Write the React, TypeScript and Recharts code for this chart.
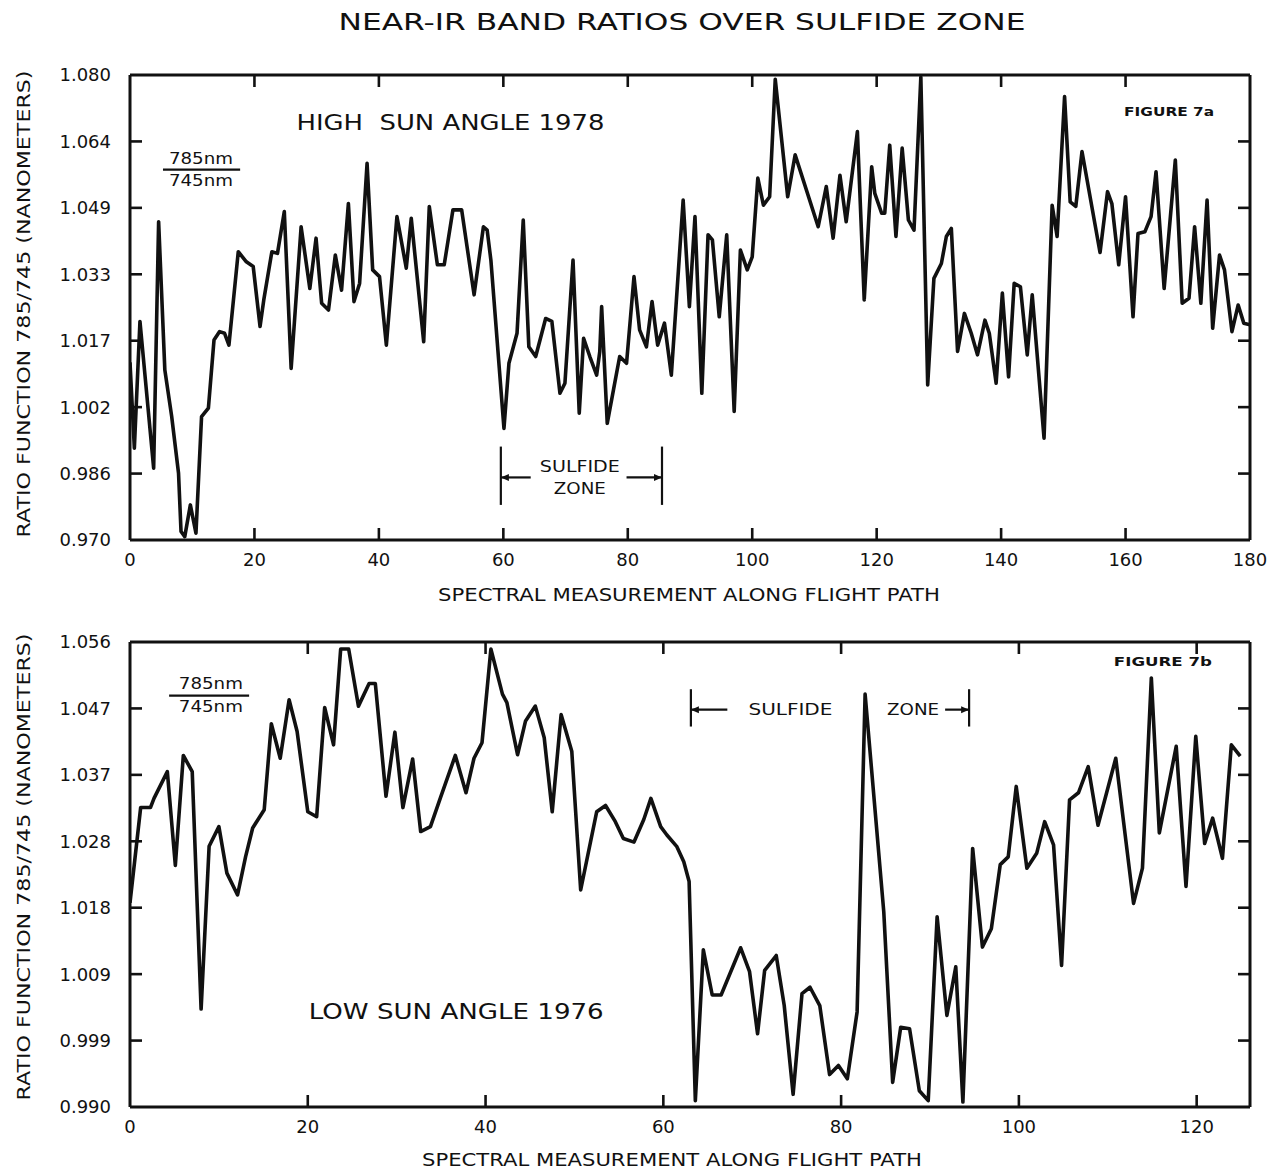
import React from "react";
import { LineChart, Line, XAxis, YAxis, ReferenceLine, ReferenceDot } from "recharts";

// Figure 7a – high sun angle, 1978 flight line
const highPos = [
  0, 0.7, 1.6, 3.8, 4.6, 5.6, 6.7, 7.8, 8.2, 8.8, 9.7, 10.6, 11.5, 12.6, 13.5, 14.4, 15.2, 15.9,
  17.4, 18.7, 19.8, 20.9, 21.5, 22.8, 23.7, 24.8, 25.9, 27.5, 28.9, 29.9, 30.8, 31.9, 33.0, 34.0,
  35.1, 36.0, 36.9, 38.1, 39.0, 40.1, 41.2, 42.9, 44.4, 45.2, 47.2, 48.1, 49.4, 50.5, 51.9, 53.3,
  55.3, 56.8, 57.4, 58.0, 60.1, 60.9, 62.2, 63.2, 64.1, 65.2, 66.8, 67.8, 69.1, 69.9, 71.2, 72.2,
  72.9, 73.9, 75.0, 75.5, 75.8, 76.7, 77.7, 78.7, 79.8, 81.0, 81.9, 83.0, 83.9, 84.8, 85.9, 87.0,
  88.9, 89.9, 90.8, 91.9, 92.9, 93.6, 94.7, 95.9, 97.1, 98.1, 99.2, 100.0, 100.9, 101.8, 102.8,
  103.7, 105.7, 106.9, 110.6, 111.9, 113.0, 114.1, 115.1, 116.9, 118.0, 119.2, 119.7, 120.8,
  121.3, 122.1, 123.1, 124.1, 125.1, 126.0, 127.1, 128.2, 129.2, 130.4, 131.2, 132.0, 133.0,
  134.1, 135.2, 136.2, 137.4, 138.1, 139.2, 140.2, 141.2, 142.1, 143.1, 144.2, 145.0, 146.9,
  148.2, 149.0, 150.2, 151.1, 152.0, 153.0, 155.9, 157.1, 157.8, 158.9, 160.0, 161.2, 162.0,
  163.1, 164.1, 164.9, 166.2, 168.0, 169.1, 170.2, 171.1, 172.1, 173.1, 174.0, 175.1, 175.9,
  177.1, 178.1, 179.0, 180.0,
];
const highRatio = [
  1.012, 0.9917, 1.0217, 0.987, 1.0453, 1.0102, 0.9992, 0.9858, 0.972, 0.9708, 0.9783, 0.9716,
  0.9992, 1.0012, 1.0173, 1.0193, 1.0189, 1.0161, 1.0382, 1.0358, 1.0347, 1.0205, 1.0268, 1.0382,
  1.0378, 1.0477, 1.0106, 1.0441, 1.0295, 1.0414, 1.026, 1.0244, 1.0374, 1.0291, 1.0496, 1.0264,
  1.0307, 1.0591, 1.0339, 1.0323, 1.0161, 1.0465, 1.0343, 1.0461, 1.0169, 1.0489, 1.0351, 1.0351,
  1.0481, 1.0481, 1.028, 1.0441, 1.0433, 1.0362, 0.9964, 1.0118, 1.0189, 1.0457, 1.0157, 1.0134,
  1.0224, 1.0217, 1.0047, 1.0071, 1.0362, 1.0, 1.0177, 1.0134, 1.009, 1.0146, 1.0252, 0.9976,
  1.0055, 1.0134, 1.0118, 1.0323, 1.0197, 1.0157, 1.0264, 1.0161, 1.0213, 1.009, 1.0504, 1.0252,
  1.0465, 1.0047, 1.0422, 1.041, 1.0228, 1.0422, 1.0004, 1.0386, 1.0339, 1.037, 1.0556, 1.0492,
  1.0512, 1.079, 1.0512, 1.0611, 1.0441, 1.0536, 1.0414, 1.0563, 1.0453, 1.0666, 1.0268, 1.0583,
  1.052, 1.0473, 1.0473, 1.0634, 1.0418, 1.0627, 1.0457, 1.0433, 1.0795, 1.0067, 1.0319, 1.0354,
  1.0418, 1.0437, 1.0146, 1.0236, 1.0189, 1.0138, 1.022, 1.0189, 1.0071, 1.0284, 1.0086, 1.0307,
  1.0299, 1.0138, 1.028, 0.9941, 1.0492, 1.0418, 1.0749, 1.05, 1.0489, 1.0619, 1.038, 1.0524,
  1.0496, 1.0351, 1.0512, 1.0228, 1.0425, 1.0429, 1.0465, 1.0571, 1.0295, 1.0599, 1.026, 1.0272,
  1.0441, 1.026, 1.0504, 1.0201, 1.0374, 1.0339, 1.0193, 1.0256, 1.0213, 1.0209,
];

// Figure 7b – low sun angle, 1976 flight line
const lowPos = [
  0, 1.2, 2.3, 2.7, 4.2, 5.1, 6.0, 7.0, 8.0, 8.9, 10.0, 10.9, 12.1, 13.0, 13.8, 15.1, 15.9, 16.9,
  17.9, 18.8, 20.0, 21.0, 21.9, 22.9, 23.7, 24.6, 25.7, 26.9, 27.6, 28.8, 29.8, 30.7, 31.8, 32.7,
  33.8, 34.9, 36.6, 37.8, 38.7, 39.6, 40.6, 41.9, 42.4, 43.6, 44.5, 45.6, 46.6, 47.5, 48.5, 49.7,
  50.7, 52.5, 53.5, 54.6, 55.5, 56.7, 57.8, 58.6, 59.7, 60.4, 61.5, 62.3, 62.9, 63.6, 64.5, 65.5,
  66.5, 68.7, 69.7, 70.6, 71.4, 72.7, 73.6, 74.6, 75.6, 76.5, 77.6, 78.7, 79.7, 80.7, 81.8, 82.7,
  84.8, 85.8, 86.7, 87.7, 88.8, 89.8, 90.8, 91.9, 92.9, 93.7, 94.8, 95.9, 96.9, 97.9, 98.8, 99.7,
  100.9, 102.0, 102.9, 103.9, 104.8, 105.7, 106.7, 107.8, 108.9, 110.9, 112.9, 113.9, 114.9,
  115.8, 117.7, 118.8, 119.9, 120.9, 121.8, 122.9, 123.9, 124.9,
];
const lowRatio = [
  1.019, 1.0325, 1.0325, 1.0338, 1.0376, 1.0243, 1.0399, 1.0376, 1.0039, 1.027, 1.0298, 1.0232,
  1.0201, 1.0255, 1.0296, 1.0322, 1.0444, 1.0395, 1.0478, 1.0433, 1.0319, 1.0312, 1.0467, 1.0414,
  1.055, 1.055, 1.0469, 1.0501, 1.0501, 1.0341, 1.0432, 1.0325, 1.0394, 1.0291, 1.0298, 1.0338,
  1.0399, 1.0346, 1.0395, 1.0417, 1.055, 1.0486, 1.0474, 1.04, 1.0448, 1.0469, 1.0424, 1.0319,
  1.0457, 1.0405, 1.0208, 1.0319, 1.0328, 1.0305, 1.0281, 1.0276, 1.0308, 1.0338, 1.0298, 1.0286,
  1.027, 1.0248, 1.022, 0.9909, 1.0123, 1.0059, 1.0059, 1.0126, 1.0092, 1.0004, 1.0094, 1.0115,
  1.0044, 0.9918, 1.0061, 1.007, 1.0044, 0.9946, 0.9959, 0.994, 1.0035, 1.0486, 1.0177, 0.9935,
  1.0013, 1.0011, 0.9923, 0.9909, 1.017, 1.003, 1.0099, 0.9907, 1.0267, 1.0127, 1.0153, 1.0244,
  1.0255, 1.0355, 1.0239, 1.026, 1.0305, 1.0272, 1.0101, 1.0336, 1.0346, 1.0383, 1.03, 1.0395,
  1.0189, 1.0239, 1.0509, 1.0289, 1.0412, 1.0213, 1.0426, 1.0274, 1.031, 1.0253, 1.0414, 1.0398,
];

const highXTicks = [0, 20, 40, 60, 80, 100, 120, 140, 160, 180];
const lowXTicks = [0, 20, 40, 60, 80, 100, 120];
const highYLabels = ["0.970", "0.986", "1.002", "1.017", "1.033", "1.049", "1.064", "1.080"];
const lowYLabels = ["0.990", "0.999", "1.009", "1.018", "1.028", "1.037", "1.047", "1.056"];

// sulfide zone limits along the flight path
const highZone = [59.6, 85.5];
const lowZone = [63.1, 94.4];

const INK = "#111";
const FONT = "'DejaVu Sans', Arial, sans-serif";
const X_GAP = 12; // axis line -> top of x tick label
const Y_GAP = 19; // axis line -> right edge of y tick label

// plot box size in px (chart width minus margins and axis widths), used to
// turn the inward tick length into data units
const PLOT_W = 1274 - 20 - 20 - 110 - 4;
const PLOT_H = 465;
const TICK_PX = 12;

const toRows = (pos: number[], vals: number[]) => pos.map((m, i) => ({ m, r: vals[i] }));

// the printed labels are rounded, the ticks themselves are evenly spaced
const evenTicks = (lo: number, hi: number, n: number) =>
  Array.from({ length: n }, (_, i) => lo + ((hi - lo) * i) / (n - 1));

const BottomLabel = (p: any) => (
  <text x={p.x} y={p.y} dy="0.78em" textAnchor="middle" fontSize={18} fontFamily={FONT} fill={INK}>
    {p.payload.value}
  </text>
);

const makeLeftLabel = (labels: string[]) => (p: any) => (
  <text x={p.x} y={p.y} dy="0.36em" textAnchor="end" fontSize={18} fontFamily={FONT} fill={INK}>
    {labels[p.index]}
  </text>
);

function seg(key: string, x1: number, y1: number, x2: number, y2: number, w = 2.2) {
  return (
    <ReferenceLine
      key={key}
      segment={[{ x: x1, y: y1 }, { x: x2, y: y2 }]}
      stroke={INK}
      strokeWidth={w}
      ifOverflow="visible"
    />
  );
}

// inward tick marks on all four sides of the frame
function frameTicks(id: string, xDomain: number[], xTicks: number[], yDomain: number[], yTicks: number[]) {
  const tx = ((xDomain[1] - xDomain[0]) * TICK_PX) / PLOT_W;
  const ty = ((yDomain[1] - yDomain[0]) * TICK_PX) / PLOT_H;
  const out: React.ReactNode[] = [];
  xTicks
    .filter((t) => t > xDomain[0] && t < xDomain[1])
    .forEach((t) => {
      out.push(seg(`${id}b${t}`, t, yDomain[0], t, yDomain[0] + ty, 2.6));
      out.push(seg(`${id}t${t}`, t, yDomain[1], t, yDomain[1] - ty, 2.6));
    });
  yTicks.slice(1, -1).forEach((t, i) => {
    out.push(seg(`${id}l${i}`, xDomain[0], t, xDomain[0] + tx, t, 2.6));
    out.push(seg(`${id}r${i}`, xDomain[1], t, xDomain[1] - tx, t, 2.6));
  });
  return out;
}

function textDot(key: string, x: number, y: number, text: string, size: number, opts: any = {}) {
  return (
    <ReferenceDot
      key={key}
      x={x}
      y={y}
      r={0}
      ifOverflow="visible"
      shape={(p: any) => (
        <text
          x={p.cx}
          y={p.cy}
          textAnchor="middle"
          dominantBaseline="central"
          fontFamily={FONT}
          fontSize={size}
          fontWeight={opts.bold ? 700 : 400}
          fill={INK}
          textLength={opts.len}
          lengthAdjust="spacingAndGlyphs"
        >
          {text}
        </text>
      )}
    />
  );
}

function arrowDot(key: string, x: number, y: number, dir: 1 | -1) {
  return (
    <ReferenceDot
      key={key}
      x={x}
      y={y}
      r={0}
      ifOverflow="visible"
      shape={(p: any) => (
        <path d={`M${p.cx},${p.cy} l${8 * dir},-3.5 l0,7 z`} fill={INK} />
      )}
    />
  );
}

// bracket "|<- SULFIDE ZONE ->|" drawn in data coordinates
function zoneBracket(id: string, zone: number[], yLo: number, yHi: number, yMid: number, inner: number[]) {
  return [
    seg(id + "l", zone[0], yLo, zone[0], yHi),
    seg(id + "r", zone[1], yLo, zone[1], yHi),
    seg(id + "al", zone[0], yMid, inner[0], yMid),
    seg(id + "ar", inner[1], yMid, zone[1], yMid),
    arrowDot(id + "hl", zone[0], yMid, 1),
    arrowDot(id + "hr", zone[1], yMid, -1),
  ];
}

function Panel({
  id,
  rows,
  xDomain,
  xTicks,
  yDomain,
  yLabels,
  height,
  marginTop,
  marginBottom,
  extras,
}: {
  id: string;
  rows: { m: number; r: number }[];
  xDomain: number[];
  xTicks: number[];
  yDomain: number[];
  yLabels: string[];
  height: number;
  marginTop: number;
  marginBottom: number;
  extras: React.ReactNode[];
}) {
  const yTicks = evenTicks(yDomain[0], yDomain[1], yLabels.length);
  const axisLine = { stroke: INK, strokeWidth: 3 };
  return (
    <LineChart
      width={1274}
      height={height}
      data={rows}
      margin={{ top: marginTop, right: 20, bottom: marginBottom, left: 20 }}
    >
      <XAxis
        dataKey="m"
        type="number"
        domain={xDomain}
        ticks={xTicks}
        allowDataOverflow
        axisLine={axisLine}
        tickLine={false}
        tickSize={0}
        tickMargin={X_GAP}
        height={40}
        tick={BottomLabel}
        interval={0}
      />
      <XAxis
        xAxisId="top"
        orientation="top"
        type="number"
        domain={xDomain}
        allowDataOverflow
        axisLine={axisLine}
        tickLine={false}
        tick={false}
        height={4}
      />
      <YAxis
        type="number"
        domain={yDomain}
        ticks={yTicks}
        allowDataOverflow
        axisLine={axisLine}
        tickLine={false}
        tickSize={0}
        tickMargin={Y_GAP}
        width={110}
        tick={makeLeftLabel(yLabels)}
        interval={0}
      />
      <YAxis
        yAxisId="right"
        orientation="right"
        type="number"
        domain={yDomain}
        allowDataOverflow
        axisLine={axisLine}
        tickLine={false}
        tick={false}
        width={4}
      />
      <Line
        type="linear"
        dataKey="r"
        stroke={INK}
        strokeWidth={3.6}
        strokeLinejoin="round"
        dot={false}
        isAnimationActive={false}
      />
      {frameTicks(id, xDomain, xTicks, yDomain, yTicks)}
      {extras}
    </LineChart>
  );
}

const highExtras = [
  textDot("hsa", 51.5, 1.0687, "HIGH\u00a0 SUN ANGLE 1978", 21, { len: 308 }),
  textDot("hn1", 11.4, 1.0602, "785nm", 16, { len: 64 }),
  seg("hfr", 5.3, 1.0576, 17.7, 1.0576),
  textDot("hn2", 11.4, 1.0551, "745nm", 16, { len: 64 }),
  textDot("hfig", 167.0, 1.0713, "FIGURE 7a", 12, { bold: true, len: 90 }),
  ...zoneBracket("hz", highZone, 0.9783, 0.9921, 0.9848, [64.4, 79.8]),
  textDot("hs1", 72.3, 0.9873, "SULFIDE", 16, { len: 80 }),
  textDot("hs2", 72.3, 0.9822, "ZONE", 16, { len: 52 }),
];

const lowExtras = [
  textDot("lsa", 36.7, 1.0035, "LOW SUN ANGLE 1976", 21, { len: 295 }),
  textDot("ln1", 9.1, 1.0501, "785nm", 16, { len: 64 }),
  seg("lfr", 4.4, 1.0484, 13.4, 1.0484),
  textDot("ln2", 9.1, 1.0468, "745nm", 16, { len: 64 }),
  textDot("lfig", 116.2, 1.0532, "FIGURE 7b", 12, { bold: true, len: 98 }),
  ...zoneBracket("lz", lowZone, 1.044, 1.0493, 1.0464, [67.2, 91.7]),
  textDot("ls1", 74.3, 1.0464, "SULFIDE", 16, { len: 84 }),
  textDot("ls2", 88.1, 1.0464, "ZONE", 16, { len: 52 }),
];

export default function App() {
  const label = { fontFamily: FONT, fill: INK } as const;
  return (
    <div style={{ position: "absolute", left: 0, top: 0, width: 1274, height: 1173, background: "#fff" }}>
      <div style={{ position: "absolute", left: 0, top: 0 }}>
        <Panel
          id="hi"
          rows={toRows(highPos, highRatio)}
          xDomain={[0, 180]}
          xTicks={highXTicks}
          yDomain={[0.97, 1.08]}
          yLabels={highYLabels}
          height={600}
          marginTop={71}
          marginBottom={20}
          extras={highExtras}
        />
      </div>
      <div style={{ position: "absolute", left: 0, top: 600 }}>
        <Panel
          id="lo"
          rows={toRows(lowPos, lowRatio)}
          xDomain={[0, 126]}
          xTicks={lowXTicks}
          yDomain={[0.99, 1.056]}
          yLabels={lowYLabels}
          height={573}
          marginTop={38}
          marginBottom={26}
          extras={lowExtras}
        />
      </div>
      <svg
        width={1274}
        height={1173}
        style={{ position: "absolute", left: 0, top: 0, pointerEvents: "none" }}
      >
        <text x={682} y={22} textAnchor="middle" dominantBaseline="central" fontSize={23} textLength={687} lengthAdjust="spacingAndGlyphs" {...label}>
          NEAR-IR BAND RATIOS OVER SULFIDE ZONE
        </text>
        <text x={689} y={595} textAnchor="middle" dominantBaseline="central" fontSize={17} textLength={502} lengthAdjust="spacingAndGlyphs" {...label}>
          SPECTRAL MEASUREMENT ALONG FLIGHT PATH
        </text>
        <text x={672} y={1160} textAnchor="middle" dominantBaseline="central" fontSize={17} textLength={500} lengthAdjust="spacingAndGlyphs" {...label}>
          SPECTRAL MEASUREMENT ALONG FLIGHT PATH
        </text>
        <text transform="translate(23,304) rotate(-90)" textAnchor="middle" dominantBaseline="central" fontSize={18} textLength={467} lengthAdjust="spacingAndGlyphs" {...label}>
          RATIO FUNCTION 785/745 (NANOMETERS)
        </text>
        <text transform="translate(23,867) rotate(-90)" textAnchor="middle" dominantBaseline="central" fontSize={18} textLength={467} lengthAdjust="spacingAndGlyphs" {...label}>
          RATIO FUNCTION 785/745 (NANOMETERS)
        </text>
      </svg>
    </div>
  );
}
